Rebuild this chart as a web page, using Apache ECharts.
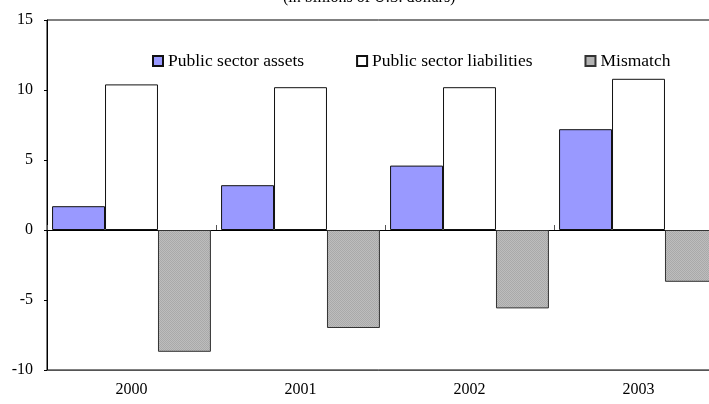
<!DOCTYPE html>
<html>
<head>
    <meta charset="UTF-8">
    <script src="https://cdn.jsdelivr.net/npm/echarts@6/dist/echarts.min.js"></script>
    <style>
        html, body { margin: 0; padding: 0; background: #fff; }
        #main { width: 709px; height: 404px; }
    </style>
</head>
<body>
<div id="main"></div>
<script type="text/javascript">
    var years = ['2000', '2001', '2002', '2003'];
    var assets = [1.7, 3.2, 4.6, 7.2];
    var liabilities = [10.4, 10.2, 10.2, 10.8];
    var mismatch = [-8.7, -7.0, -5.6, -3.7];
    var yTicks = [-10, -5, 0, 5, 10, 15];

    var serif = "'Liberation Serif', 'Times New Roman', serif";

    // dotted grey fill like the original
    function dotPattern() {
        var c = document.createElement('canvas');
        c.width = 2;
        c.height = 2;
        var ctx = c.getContext('2d');
        ctx.fillStyle = '#bdbdbd';
        ctx.fillRect(0, 0, 2, 2);
        ctx.fillStyle = '#a9a9a9';
        ctx.fillRect(0, 0, 1, 1);
        ctx.fillRect(1, 1, 1, 1);
        return { image: c, repeat: 'repeat' };
    }

    var myChart = echarts.init(document.getElementById('main'));
    option = {
        animation: false,
        title: {
            text: '(in billions of U.S. dollars)',
            left: 283,
            top: -10,
            padding: 0,
            textStyle: { fontFamily: serif, fontSize: 16, fontWeight: 'normal', color: '#000' }
        },
        legend: {
            left: 152,
            top: 52,
            padding: 0,
            icon: 'rect',
            itemWidth: 10,
            itemHeight: 10,
            itemGap: 52,
            textStyle: { fontFamily: serif, fontSize: 17.5, color: '#000' },
            data: ['Public sector assets', 'Public sector liabilities', 'Mismatch']
        },
        grid: {
            left: 47,
            top: 20,
            width: 676,
            bottom: 34,
            containLabel: false,
            outerBoundsMode: 'none',
            show: true,
            borderColor: '#000',
            borderWidth: 1
        },
        xAxis: [
            {
                type: 'category',
                position: 'bottom',
                data: years,
                axisLine: { onZero: false, lineStyle: { color: '#555', width: 1 } },
                axisTick: { show: false },
                axisLabel: { fontFamily: serif, fontSize: 16, color: '#000', margin: 12 }
            },
            {
                type: 'category',
                position: 'bottom',
                data: years,
                axisLine: { onZero: true, lineStyle: { color: '#000', width: 1 } },
                axisTick: { show: true, inside: true, length: 5, lineStyle: { color: '#555' } },
                axisLabel: { show: false }
            }
        ],
        yAxis: {
            type: 'value',
            min: yTicks[0],
            max: yTicks[yTicks.length - 1],
            interval: 5,
            splitLine: { show: false },
            axisLine: { show: true, lineStyle: { color: '#000' } },
            axisTick: { show: true, length: 3, lineStyle: { color: '#000' } },
            axisLabel: { fontFamily: serif, fontSize: 16, color: '#000', margin: 14 }
        },
        series: [
            {
                name: 'Public sector assets',
                type: 'bar',
                data: assets,
                barGap: '0%',
                barCategoryGap: '6%',
                itemStyle: { color: '#9999ff', borderColor: '#111', borderWidth: 1 }
            },
            {
                name: 'Public sector liabilities',
                type: 'bar',
                data: liabilities,
                itemStyle: { color: '#ffffff', borderColor: '#111', borderWidth: 1 }
            },
            {
                name: 'Mismatch',
                type: 'bar',
                data: mismatch,
                itemStyle: { color: dotPattern(), borderColor: '#333', borderWidth: 1 }
            }
        ]
    };
    myChart.setOption(option);
</script>
</body>
</html>
